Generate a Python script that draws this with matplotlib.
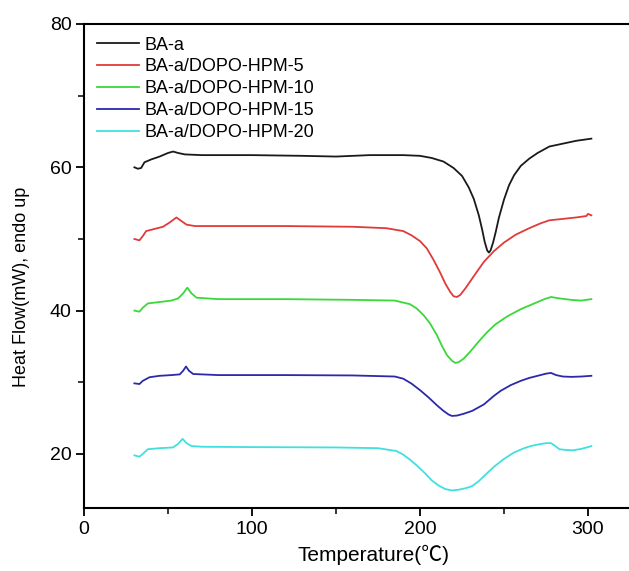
import matplotlib
matplotlib.use("Agg")
import matplotlib.pyplot as plt
from matplotlib.ticker import MultipleLocator

plt.rcParams['font.family'] = ['Liberation Sans', 'Noto Sans CJK SC', 'DejaVu Sans']

# DSC curves: temperature (C) and heat flow (mW)
ba_t = [30, 32, 34, 36, 40, 45, 50, 53, 56, 60, 70, 100, 130, 150, 170, 190, 200, 207,
        214, 220, 225, 229, 232, 235, 237, 238.5, 240, 241, 242, 243.5, 245, 247, 250,
        253, 256, 260, 265, 270, 277, 285, 293, 302]
ba_hf = [60.0, 59.8, 59.9, 60.7, 61.1, 61.5, 62.0, 62.2, 62.0, 61.8, 61.7, 61.7, 61.6,
         61.5, 61.7, 61.7, 61.6, 61.3, 60.8, 59.9, 58.8, 57.2, 55.6, 53.3, 51.3, 49.6,
         48.4, 48.1, 48.4, 49.5, 50.9, 53.0, 55.5, 57.5, 58.9, 60.2, 61.2, 62.0, 62.9,
         63.3, 63.7, 64.0]

hpm5_t = [30, 33, 35, 37, 42, 47, 51, 55, 58, 61, 66, 80, 120, 160, 180, 190, 195, 200,
          204, 208, 212, 215, 218, 220, 222, 224, 227, 232, 238, 244, 250, 257, 265, 272,
          277, 285, 293, 299, 300, 302]
hpm5_hf = [50.0, 49.8, 50.4, 51.1, 51.4, 51.7, 52.3, 53.0, 52.5, 52.0, 51.8, 51.8, 51.8,
           51.7, 51.5, 51.1, 50.5, 49.7, 48.7, 47.1, 45.3, 43.8, 42.6, 42.0, 41.9, 42.2,
           43.1, 44.8, 46.8, 48.3, 49.5, 50.6, 51.5, 52.2, 52.6, 52.8, 53.0, 53.2, 53.5,
           53.3]

hpm10_t = [30, 33, 35, 38, 45, 52, 56, 59, 61.5, 64, 67, 80, 120, 160, 185, 194, 198,
           202, 206, 210, 213, 216, 219, 221, 223, 226, 230, 235, 240, 245, 252, 260, 268,
           274, 278, 283, 290, 296, 302]
hpm10_hf = [40.0, 39.85, 40.4, 41.0, 41.2, 41.4, 41.7, 42.4, 43.2, 42.4, 41.8, 41.6,
            41.6, 41.5, 41.4, 40.9, 40.3, 39.4, 38.2, 36.6, 35.1, 33.8, 33.0, 32.7, 32.8,
            33.3, 34.3, 35.7, 37.0, 38.1, 39.2, 40.2, 41.0, 41.6, 41.9, 41.7, 41.5, 41.4,
            41.6]

hpm15_t = [30, 33, 35, 39, 45, 52, 57, 59, 60.7, 62.5, 65, 80, 120, 160, 185, 190, 195,
           200, 205, 210, 214, 217, 219, 222, 226, 231, 238, 244, 248, 254, 260, 265, 270,
           275, 278, 281, 285, 290, 296, 302]
hpm15_hf = [29.85, 29.75, 30.2, 30.7, 30.9, 31.0, 31.1, 31.6, 32.2, 31.6, 31.15, 31.0,
            31.0, 30.95, 30.8, 30.5, 29.8, 28.9, 27.9, 26.8, 26.0, 25.5, 25.3, 25.35, 25.6,
            26.0, 26.9, 28.1, 28.8, 29.6, 30.2, 30.6, 30.9, 31.2, 31.3, 31.0, 30.8, 30.75,
            30.8, 30.9]

hpm20_t = [30, 33, 35, 38, 45, 53, 56, 58.7, 61, 64, 70, 100, 150, 175, 186, 190, 194,
           198, 203, 207, 211, 215, 219, 223, 227, 231, 235, 239, 244, 250, 256, 262, 266,
           270, 275, 278, 280.5, 283, 287, 291, 296, 300.7, 302]
hpm20_hf = [19.8, 19.6, 20.0, 20.65, 20.8, 20.9, 21.4, 22.1, 21.5, 21.1, 21.0, 20.95,
            20.9, 20.8, 20.4, 19.9, 19.2, 18.4, 17.3, 16.3, 15.6, 15.1, 14.9, 15.0, 15.2,
            15.5, 16.2, 17.1, 18.2, 19.3, 20.2, 20.8, 21.1, 21.3, 21.5, 21.5, 21.1, 20.65,
            20.55, 20.5, 20.7, 21.0, 21.1]

labels = ['BA-a', 'BA-a/DOPO-HPM-5', 'BA-a/DOPO-HPM-10', 'BA-a/DOPO-HPM-15', 'BA-a/DOPO-HPM-20']
colors = ['#1a1a1a', '#e03a3a', '#3ad83a', '#2a2aaa', '#40e0e0']
series = [(ba_t, ba_hf), (hpm5_t, hpm5_hf), (hpm10_t, hpm10_hf),
          (hpm15_t, hpm15_hf), (hpm20_t, hpm20_hf)]

fig = plt.figure(figsize=(6.29, 5.71), dpi=100)
ax = fig.add_axes([84 / 629, 63 / 571, 545 / 629, 484 / 571])

for (t, hf), lab, c in zip(series, labels, colors):
    ax.plot(t, hf, color=c, lw=1.3, label=lab)

ax.set_xlim(0, 324.4)
ax.set_ylim(12.45, 80)
ax.xaxis.set_major_locator(MultipleLocator(100))
ax.xaxis.set_minor_locator(MultipleLocator(50))
ax.yaxis.set_major_locator(MultipleLocator(20))
ax.yaxis.set_minor_locator(MultipleLocator(10))
ax.tick_params(which='major', direction='out', length=6, width=1.3, labelsize=14, pad=3)
ax.tick_params(which='minor', direction='out', length=4, width=1.1)
ax.spines['right'].set_visible(False)
for s in ['left', 'bottom', 'top']:
    ax.spines[s].set_linewidth(1.5)

ax.set_xlabel('Temperature(℃)', fontsize=15)
ax.xaxis.set_label_coords(0.532, -0.076)
ax.set_ylabel('Heat Flow(mW), endo up', fontsize=13)
ax.yaxis.set_label_coords(-0.099, 0.457)

ax.legend(loc='upper left', bbox_to_anchor=(0.024, 0.974), frameon=False, fontsize=13,
          handlelength=2.3, handletextpad=0.3, labelspacing=0.27, borderaxespad=0,
          borderpad=0)

fig.savefig('out.png', dpi=100)
